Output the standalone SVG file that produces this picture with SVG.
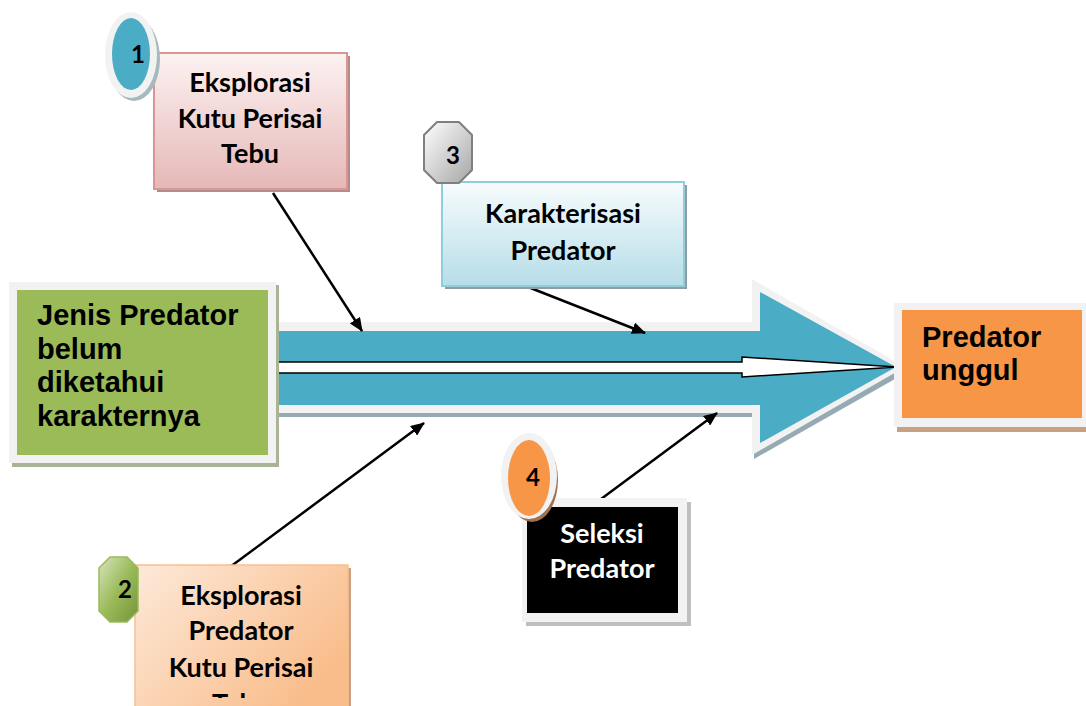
<svg xmlns="http://www.w3.org/2000/svg" width="1086" height="706" viewBox="0 0 1086 706">
<defs>
<linearGradient id="gPink" x1="0" y1="0" x2="0" y2="1"><stop offset="0" stop-color="#fdf2f2"/><stop offset="1" stop-color="#e5b8b7"/></linearGradient>
<linearGradient id="gBlue" x1="0" y1="0" x2="0" y2="1"><stop offset="0" stop-color="#f7fcfd"/><stop offset="1" stop-color="#b6dde8"/></linearGradient>
<linearGradient id="gPeach" x1="0" y1="0" x2="1" y2="0.6"><stop offset="0" stop-color="#fde9d9"/><stop offset="1" stop-color="#f9bd8b"/></linearGradient>
<linearGradient id="gGray" x1="0" y1="0" x2="1" y2="1"><stop offset="0" stop-color="#ffffff"/><stop offset="1" stop-color="#a6a6a6"/></linearGradient>
<linearGradient id="gGreen" x1="0" y1="0" x2="1" y2="1"><stop offset="0" stop-color="#d7e4bd"/><stop offset="0.5" stop-color="#9bbb59"/><stop offset="1" stop-color="#76923c"/></linearGradient>
<clipPath id="clip2"><rect x="135" y="565" width="213" height="133"/></clipPath>
<marker id="ah" viewBox="0 0 14 12" refX="13" refY="6" markerWidth="14" markerHeight="12" markerUnits="userSpaceOnUse" orient="auto"><path d="M0,0 L14,6 L0,12 Z" fill="#000"/></marker>
<style>
.t{font-family:"Lato","Liberation Sans",sans-serif;font-weight:bold;font-size:27px;fill:#000;text-anchor:middle}
.a{font-family:"Liberation Sans",Arial,sans-serif;font-weight:bold;font-size:29px;fill:#000}
.n{font-family:"Lato","Liberation Sans",sans-serif;font-weight:bold;font-size:24px;fill:#000;text-anchor:middle}
.c{stroke:#000;stroke-width:2.5;fill:none;marker-end:url(#ah)}
</style>
</defs>
<rect width="1086" height="706" fill="#fff"/>

<g id="bigArrow">
<polygon points="271,326 754,326 754,283 909,371 754,459 754,417 271,417" fill="#95aab2"/>
<polygon points="269,322 752,322 752,279 905,367 752,455 752,413 269,413" fill="#f2f2f2"/>
<polygon points="277,331 760,331 760,292 896,367 760,443 760,405 277,405" fill="#4bacc6"/>
<polygon points="272,362 742,362 742,357 897,367 742,377 742,373 272,373" fill="#fff" stroke="#000" stroke-width="1.5"/>
</g>

<g id="start">
<rect x="12" y="285" width="267" height="182" fill="#a9b496"/>
<rect x="9" y="282" width="267" height="181" fill="#f2f2f2"/>
<rect x="17" y="290" width="251" height="165" fill="#9bbb59"/>
<text class="a" x="37" y="325">Jenis Predator</text>
<text class="a" x="37" y="359">belum</text>
<text class="a" x="37" y="392">diketahui</text>
<text class="a" x="37" y="426">karakternya</text>
</g>

<g id="end">
<rect x="897" y="307" width="189" height="125" fill="#c9a083"/>
<rect x="894" y="303" width="192" height="124" fill="#f2f2f2"/>
<rect x="902" y="310" width="180" height="108" fill="#f79646"/>
<text class="a" x="922" y="347">Predator</text>
<text class="a" x="922" y="380">unggul</text>
</g>

<g id="connectors">
<line class="c" x1="273" y1="193" x2="362" y2="331"/>
<line class="c" x1="523" y1="285" x2="645" y2="333"/>
<line class="c" x1="230" y1="567" x2="424" y2="423"/>
<line class="c" x1="597" y1="502" x2="717" y2="413"/>
</g>

<g id="step1">
<rect x="157" y="56" width="193" height="136" fill="#b38b8a"/>
<rect x="154" y="53" width="193" height="136" fill="url(#gPink)" stroke="#d99694" stroke-width="2"/>
<text class="t" x="250" y="92">Eksplorasi</text>
<text class="t" x="250" y="128">Kutu Perisai</text>
<text class="t" x="250" y="163">Tebu</text>
<g id="badge1">
<ellipse cx="134" cy="59" rx="26" ry="42" fill="#a5b9bf"/>
<ellipse cx="131" cy="55" rx="26" ry="43" fill="#f2f2f2"/>
<ellipse cx="131" cy="54" rx="19" ry="36" fill="#4bacc6"/>
<text class="n" x="138" y="63">1</text>
</g>
</g>

<g id="step3">
<rect x="445" y="185" width="242" height="104" fill="#8c9ea4"/>
<rect x="442" y="182" width="242" height="104" fill="url(#gBlue)" stroke="#92cddc" stroke-width="2"/>
<text class="t" x="563" y="223">Karakterisasi</text>
<text class="t" x="563" y="260">Predator</text>
<g id="badge3">
<polygon points="437,122 459,122 472,135 472,170 459,183 437,183 424,170 424,135" fill="url(#gGray)" stroke="#7f7f7f" stroke-width="2"/>
<text class="n" x="453" y="164">3</text>
</g>
</g>

<g id="step2">
<rect x="138" y="568" width="213" height="140" fill="#c9a083"/>
<rect x="135" y="565" width="213" height="143" fill="url(#gPeach)" stroke="#fac090" stroke-width="1.5"/>
<text class="t" x="241" y="605">Eksplorasi</text>
<text class="t" x="241" y="640">Predator</text>
<text class="t" x="241" y="677">Kutu Perisai</text>
<text class="t" x="241" y="713" clip-path="url(#clip2)">Tebu</text>
<g id="badge2">
<polygon points="110,557 127,557 138,568 138,611 127,622 110,622 99,611 99,568" fill="url(#gGreen)" stroke="#9bbb59" stroke-width="1.5"/>
<text class="n" x="125" y="598">2</text>
</g>
</g>

<g id="step4">
<rect x="526" y="502" width="165" height="124" fill="#bfbfbf"/>
<rect x="522" y="498" width="165" height="124" fill="#f2f2f2"/>
<rect x="527" y="507" width="151" height="106" fill="#000"/>
<text class="t" x="602" y="543" style="fill:#fff">Seleksi</text>
<text class="t" x="602" y="578" style="fill:#fff">Predator</text>
<g id="badge4">
<ellipse cx="532" cy="480" rx="26" ry="42" fill="#a07050"/>
<ellipse cx="529" cy="476" rx="28" ry="43" fill="#f2f2f2"/>
<ellipse cx="529" cy="478" rx="21" ry="38" fill="#f79646"/>
<text class="n" x="533" y="486">4</text>
</g>
</g>
</svg>
